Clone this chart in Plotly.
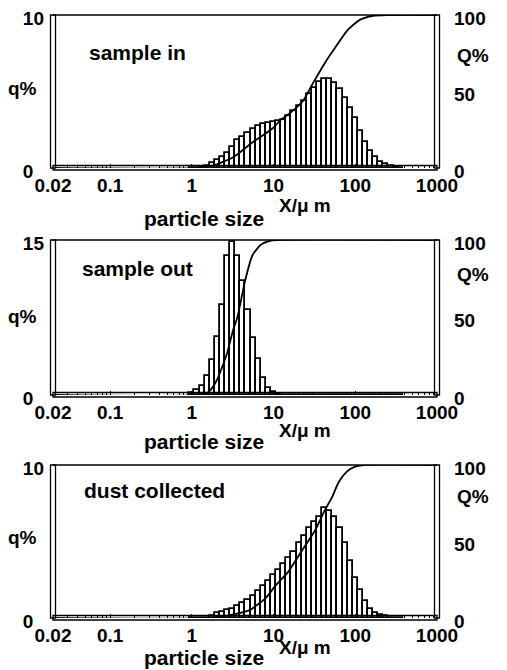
import numpy as np
import plotly.graph_objects as go

# ---------------- data ----------------
size_um = [1.0, 1.155, 1.334, 1.540, 1.778, 2.054, 2.371, 2.738, 3.162, 3.652,
           4.217, 4.870, 5.623, 6.494, 7.499, 8.660, 10.00, 11.55, 13.34, 15.40,
           17.78, 20.54, 23.71, 27.38, 31.62, 36.52, 42.17, 48.70, 56.23, 64.94,
           74.99, 86.60, 100.0, 115.5, 133.4, 154.0, 177.8, 205.4, 237.1, 273.8,
           316.2, 365.2]

q_sample_in = [0, 0.03, 0.05, 0.15, 0.3, 0.5, 0.75, 1.0, 1.35, 1.8,
               2.05, 2.3, 2.55, 2.75, 2.9, 2.95, 3.0, 3.07, 3.15, 3.4,
               3.7, 4.05, 4.4, 4.85, 5.25, 5.6, 5.85, 5.85, 5.55, 5.15,
               4.6, 3.9, 3.3, 2.4, 1.7, 1.1, 0.7, 0.4, 0.25, 0.12,
               0.05, 0]

q_sample_out = [0.2, 0.5, 0.9, 1.8, 3.4, 5.6, 8.7, 13.5, 14.8, 13.5,
                11.0, 8.2, 5.5, 3.5, 1.6, 0.7, 0.3, 0.1, 0, 0,
                0, 0, 0, 0, 0, 0, 0, 0, 0, 0,
                0, 0, 0, 0, 0, 0, 0, 0, 0, 0,
                0, 0]

q_dust = [0, 0, 0, 0, 0.1, 0.35, 0.4, 0.5, 0.6, 0.8,
          1.0, 1.2, 1.45, 1.75, 2.1, 2.45, 2.8, 3.15, 3.5, 3.9,
          4.3, 4.9, 5.35, 5.9, 6.3, 6.6, 7.2, 7.0, 6.6, 5.9,
          4.9, 3.7, 2.6, 1.8, 1.1, 0.6, 0.35, 0.2, 0.1, 0,
          0, 0]

Q_in_x = [0.02, 1.2, 1.8, 3.2, 5.6, 9.8, 12, 16, 23, 30, 44, 54, 80, 115, 165, 250, 1000]
Q_in_y = [0, 0, 1.5, 7, 17, 26, 31, 36, 44, 55, 70, 77, 90, 97, 99.5, 100, 100]

Q_out_x = [0.02, 1.2, 1.6, 2.0, 2.7, 3.2, 3.6, 4.5, 5.5, 7.0, 9.0, 11, 1000]
Q_out_y = [0, 0, 2, 9, 27, 42, 50, 74, 90, 97, 99.5, 100, 100]

Q_dust_x = [0.02, 1.8, 3, 5, 8, 10.5, 15, 21, 32, 42, 52, 63, 80, 100, 130, 1000]
Q_dust_y = [0, 0, 2, 5, 13, 21, 30, 42, 57, 70, 79, 89, 96, 99, 100, 100]

x_tick_vals = [0.02, 0.1, 1, 10, 100, 1000]
x_tick_text = ["0.02", "0.1", "1", "10", "100", "1000"]
panel_titles = ["sample in", "sample out", "dust collected"]
q_max = [10, 15, 10]

# ---------------- layout helpers ----------------
# the page body has an 8 px margin, so the figure sits at (8, 8)
OFF = 8
W, H = 507 - OFF, 670 - OFF
FONT = "Liberation Sans, Arial, sans-serif"


def px(x):
    return (x - OFF) / W


def py(y):
    return 1 - (y - OFF) / H


panels = [
    dict(top=15, bottom=168, q=q_sample_in, Qx=Q_in_x, Qy=Q_in_y,
         title_x=87, title_y=52, qlab_y=88, Qlab_y=55, xt_y=218, xu_y=205),
    dict(top=240, bottom=395, q=q_sample_out, Qx=Q_out_x, Qy=Q_out_y,
         title_x=80, title_y=268, qlab_y=317, Qlab_y=274, xt_y=441, xu_y=430),
    dict(top=465, bottom=618, q=q_dust, Qx=Q_dust_x, Qy=Q_dust_y,
         title_x=82, title_y=490, qlab_y=537, Qlab_y=496, xt_y=657, xu_y=647),
]
left_px, right_px = 53, 437

xlog = np.log10(size_um)
minor_vals = []
for d in range(-2, 3):
    for k in range(2, 10):
        v = k * 10.0 ** d
        if 0.02 < v < 1000:
            minor_vals.append(np.log10(v))

fig = go.Figure()
annotations = []
shapes = []
layout = dict(
    template="none",
    width=W, height=H, margin=dict(l=0, r=0, t=0, b=0, autoexpand=False),
    paper_bgcolor="white", plot_bgcolor="white", showlegend=False,
    bargap=0, font=dict(family=FONT, color="black"),
)

for i, p in enumerate(panels):
    n = i + 1
    xa = "x" if n == 1 else f"x{n}"
    ya_l = "y" if n == 1 else f"y{2 * n - 1}"
    ya_r = f"y{2 * n}"
    dom_y = [py(p["bottom"]), py(p["top"])]

    fig.add_trace(go.Bar(
        x=xlog, y=p["q"], xaxis=xa, yaxis=ya_l,
        marker=dict(color="white", line=dict(color="black", width=1.8)),
    ))
    fig.add_trace(go.Scatter(
        x=np.log10(p["Qx"]), y=p["Qy"], xaxis=xa, yaxis=ya_r, mode="lines",
        line=dict(color="black", width=1.8, shape="spline", smoothing=0.6),
    ))

    xkey = "xaxis" if n == 1 else f"xaxis{n}"
    ylkey = "yaxis" if n == 1 else f"yaxis{2 * n - 1}"
    yrkey = f"yaxis{2 * n}"
    layout[xkey] = dict(
        domain=[px(left_px), px(right_px)], anchor=ya_l, automargin=False,
        range=[np.log10(0.02), 3], tickmode="array",
        tickvals=np.log10(x_tick_vals), ticktext=x_tick_text,
        ticks="inside", ticklen=4, tickwidth=1.3, tickcolor="black",
        minor=dict(tickvals=minor_vals, ticks="inside", ticklen=3,
                   tickwidth=1, tickcolor="black", showgrid=False),
        showgrid=False, zeroline=False, showline=False,
        tickfont=dict(size=19, family=FONT, weight="bold", color="black"),
        ticklabelstandoff=4, ticklabeloverflow="allow",
    )
    layout[ylkey] = dict(
        domain=dom_y, anchor=xa, range=[0, q_max[i]], automargin=False,
        tickmode="array", tickvals=[0, q_max[i]],
        ticktext=["0\u2007", str(q_max[i])],
        showgrid=False, zeroline=False, showline=False, ticks="",
        tickfont=dict(size=19, family=FONT, weight="bold", color="black"),
        ticklabelstandoff=8, ticklabelshift=3, ticklabeloverflow="allow",
    )
    layout[yrkey] = dict(
        domain=dom_y, anchor=xa, overlaying=ya_l, side="right",
        range=[0, 100], tickmode="array", tickvals=[0, 50, 100],
        automargin=False,
        showgrid=False, zeroline=False, showline=False, ticks="",
        tickfont=dict(size=19, family=FONT, weight="bold", color="black"),
        ticklabelstandoff=16, ticklabelshift=3, ticklabeloverflow="allow",
    )

    # frame: double left/right borders, top line, bottom strip
    xd = f"{xa} domain"
    yd = f"{ya_l} domain"
    for xa_anchor in (0, 1):
        shapes.append(dict(type="rect", xref=xd, yref=yd, xsizemode="pixel",
                           xanchor=xa_anchor, x0=-2.5, x1=2.5, y0=0, y1=1,
                           line=dict(color="black", width=1.3),
                           fillcolor="white", layer="above"))
    shapes.append(dict(type="line", xref=xd, yref=yd, x0=0, x1=1, y0=1, y1=1,
                       line=dict(color="black", width=1.6), layer="above"))
    shapes.append(dict(type="rect", xref=xd, yref=yd, ysizemode="pixel",
                       yanchor=0, y0=-2, y1=2.5, x0=0, x1=1,
                       line=dict(color="black", width=1.3), layer="above"))

    annotations += [
        dict(text=panel_titles[i], xref="paper", yref="paper",
             x=px(p["title_x"]), y=py(p["title_y"]), xanchor="left",
             yanchor="middle", showarrow=False,
             font=dict(size=21, family=FONT, weight="bold")),
        dict(text="q%", xref="paper", yref="paper",
             x=px(22), y=py(p["qlab_y"]), xanchor="center", yanchor="middle",
             showarrow=False, font=dict(size=19, family=FONT, weight="bold")),
        dict(text="Q%", xref="paper", yref="paper",
             x=px(455), y=py(p["Qlab_y"]), xanchor="left", yanchor="middle",
             showarrow=False, font=dict(size=19, family=FONT, weight="bold")),
        dict(text="particle size", xref="paper", yref="paper",
             x=px(204), y=py(p["xt_y"]), xanchor="center", yanchor="middle",
             showarrow=False, borderpad=0,
             font=dict(size=21, family=FONT, weight="bold")),
        dict(text="X/\u03bc m", xref="paper", yref="paper",
             x=px(305), y=py(p["xu_y"]), xanchor="center", yanchor="middle",
             showarrow=False, borderpad=0,
             font=dict(size=19, family=FONT, weight="bold")),
    ]

layout["annotations"] = annotations
layout["shapes"] = shapes
fig.update_layout(**layout)
fig.write_html("out.html")
